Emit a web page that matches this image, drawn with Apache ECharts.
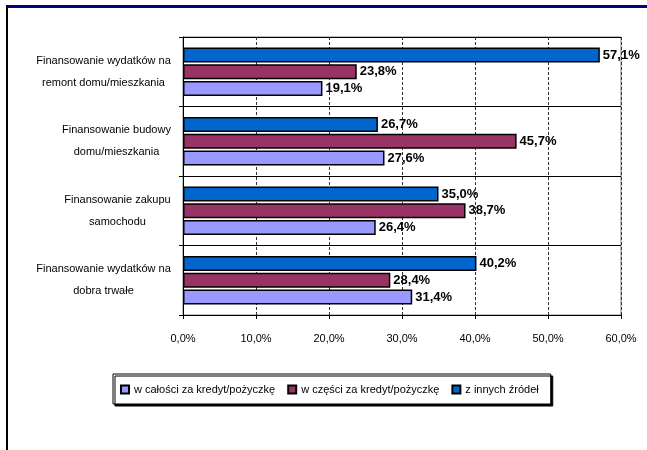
<!DOCTYPE html>
<html>
<head>
<meta charset="utf-8">
<script src="https://cdn.jsdelivr.net/npm/echarts@6/dist/echarts.min.js"></script>
<style>
html,body{margin:0;padding:0;background:#fff;}
#c{width:647px;height:450px;}
</style>
</head>
<body>
<div id="c"></div>
<script>
// Data (categories listed bottom -> top, as the category axis draws them)
const categories = [
  "Finansowanie wydatków na\ndobra trwałe",
  "Finansowanie zakupu\nsamochodu",
  "Finansowanie budowy\ndomu/mieszkania",
  "Finansowanie wydatków na\nremont domu/mieszkania"
];
const seriesNames = ["w całości za kredyt/pożyczkę", "w części za kredyt/pożyczkę", "z innych źródeł"];
const wCalosci = [31.4, 26.4, 27.6, 19.1];
const wCzesci  = [28.4, 38.7, 45.7, 23.8];
const zInnych  = [40.2, 35.0, 26.7, 57.1];
const xMin = 0, xMax = 60, xStep = 10;

const FONT = '"Liberation Sans", Arial, sans-serif';
const pct = v => Number(v).toFixed(1).replace('.', ',') + '%';

// measure label lines so each block's lines are centred relative to each other
const cv = document.createElement('canvas').getContext('2d');
cv.font = '11px "Liberation Sans"';
const rich = {};
categories.forEach((c, i) => {
  const w = Math.max(...c.split('\n').map(l => cv.measureText(l).width));
  rich['c' + i] = { width: Math.ceil(w), align: 'center', fontSize: 11, lineHeight: 22, fontFamily: FONT, color: '#000' };
});

const colors = ['#9999FF', '#993366', '#0066CC'];
const values = [wCalosci, wCzesci, zInnych];
// draw order: top bar first (z innych), bottom bar last (w całości)
const drawOrder = [2, 1, 0];

const chart = echarts.init(document.getElementById('c'), null, { renderer: 'canvas' });
chart.setOption({
  backgroundColor: '#fff',
  animation: false,
  textStyle: { fontFamily: FONT },
  grid: { left: 183, right: 26, top: 37, bottom: 135, show: true, borderColor: '#808080', borderWidth: 1, containLabel: false },
  legend: {
    data: seriesNames,
    left: 113, top: 374,
    orient: 'horizontal',
    itemWidth: 8, itemHeight: 8, itemGap: 12,
    padding: [10, 12, 9, 7],
    borderColor: '#000', borderWidth: 1,
    shadowColor: '#000', shadowOffsetX: 2, shadowOffsetY: 2, shadowBlur: 0,
    backgroundColor: '#fff',
    textStyle: { fontSize: 11, color: '#000', fontFamily: FONT },
    icon: 'rect'
  },
  xAxis: {
    type: 'value', min: xMin, max: xMax, interval: xStep,
    axisLine: { show: true, lineStyle: { color: '#000', width: 1 } },
    axisTick: { show: true, length: 4, lineStyle: { color: '#000' } },
    axisLabel: { formatter: v => pct(v), fontSize: 11, color: '#000', margin: 18, fontFamily: FONT },
    splitLine: { show: true, lineStyle: { color: '#333', type: [3, 2], width: 1 } }
  },
  yAxis: {
    type: 'category', data: categories,
    axisLine: { show: true, lineStyle: { color: '#000', width: 1 } },
    axisTick: { show: true, length: 4, lineStyle: { color: '#000' } },
    axisLabel: {
      margin: 12,
      formatter: (v, i) => v.split('\n').map(l => '{c' + i + '|' + l + '}').join('\n'),
      rich: rich
    },
    splitLine: { show: true, lineStyle: { color: '#000', width: 1 } }
  },
  series: drawOrder.map(k => ({
    name: seriesNames[k], type: 'bar', data: values[k],
    barWidth: 15, barGap: '12%',
    itemStyle: { color: colors[k], borderColor: '#000', borderWidth: 1.5 },
    label: { show: true, position: 'right', distance: 3, formatter: p => pct(p.value), fontSize: 13, fontWeight: 'bold', color: '#000', fontFamily: FONT }
  })),
  graphic: [
    { type: 'rect', left: 6, top: 5, shape: { width: 2, height: 445 }, style: { fill: '#000' }, silent: true },
    { type: 'rect', left: 7, top: 5, shape: { width: 640, height: 3 }, style: { fill: '#000080' }, silent: true }
  ]
});
</script>
</body>
</html>
